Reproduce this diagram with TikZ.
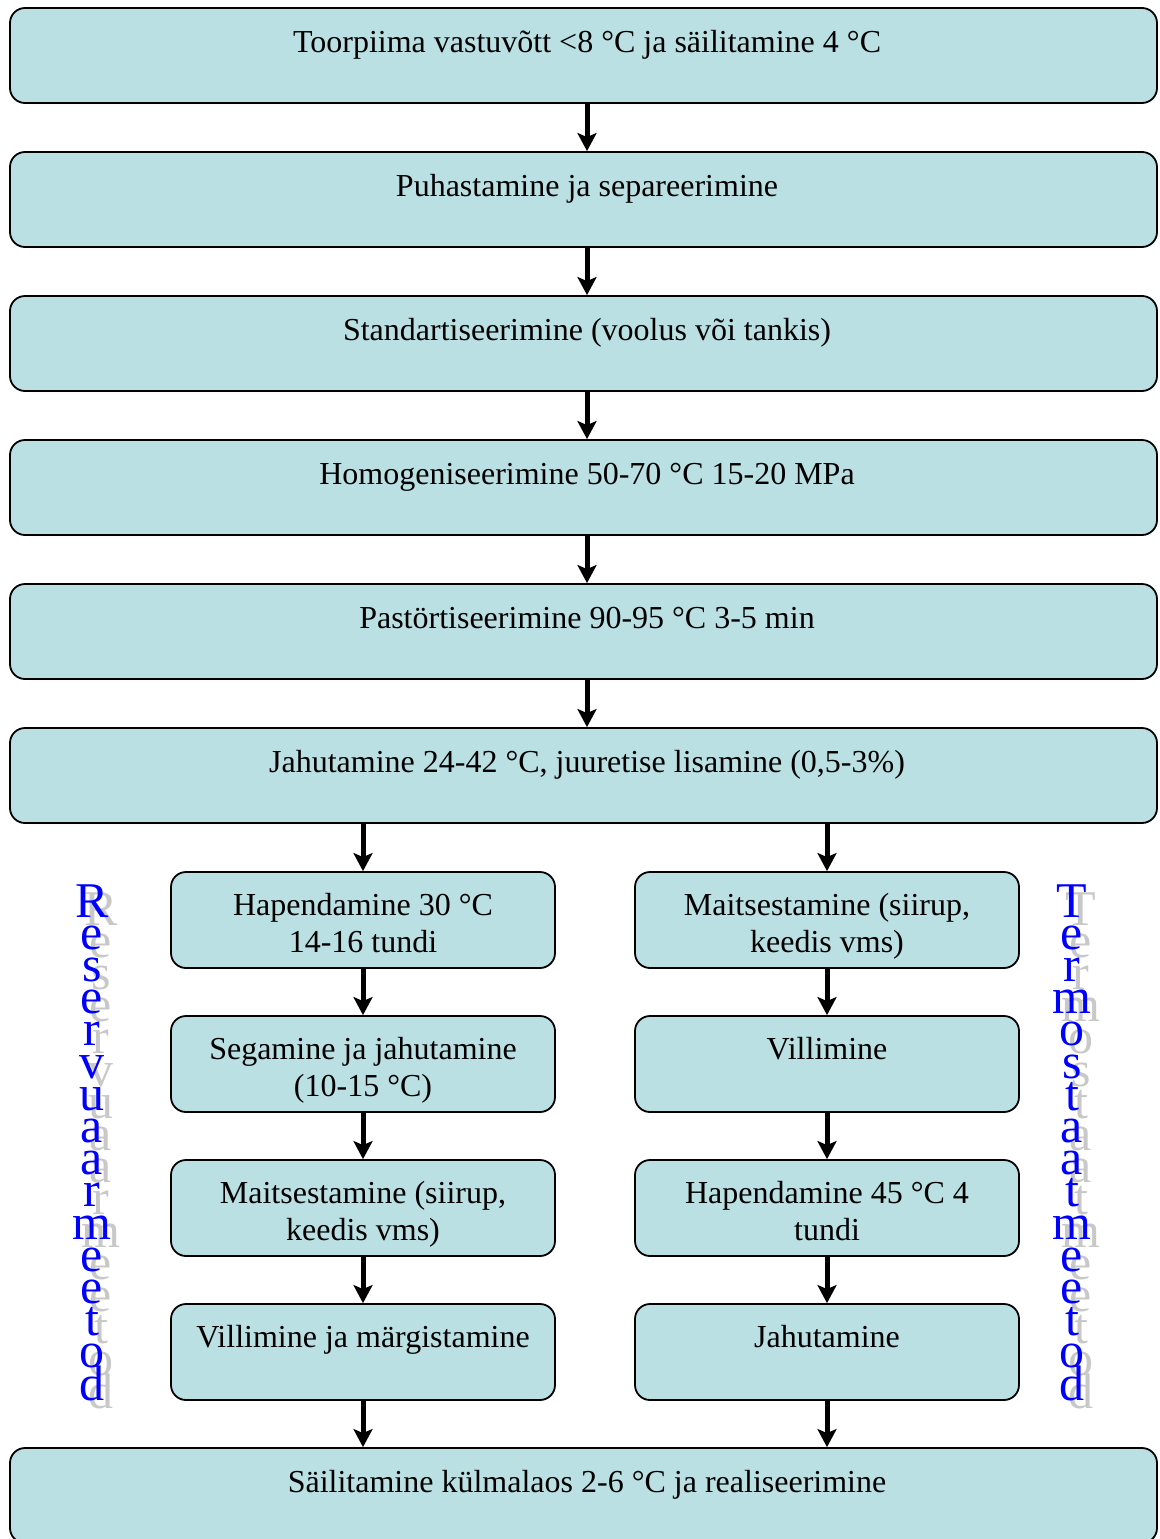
\documentclass[tikz,border=0pt]{standalone}
\usepackage{fontspec}
\setmainfont{Liberation Serif}
\usetikzlibrary{arrows.meta}
\definecolor{boxfill}{RGB}{186,224,227}
\definecolor{lettershade}{RGB}{200,200,200}
\begin{document}
\begin{tikzpicture}[x=1pt,y=-1pt,
  bigbox/.style={draw=black, line width=1.8pt, fill=boxfill, rounded corners=15pt,
    minimum width=1147pt, minimum height=95pt, inner sep=0pt},
  smallbox/.style={draw=black, line width=1.8pt, fill=boxfill, rounded corners=15pt,
    minimum width=384pt, minimum height=96pt, inner sep=0pt},
  txt/.style={anchor=base, inner sep=0pt, font=\fontsize{32}{37}\selectfont},
  flow/.style={line width=5pt, -{Stealth[length=18pt,width=19pt,inset=4pt]}},
  vletter/.style={anchor=base, inner sep=0pt, text=blue, font=\fontsize{50}{50}\selectfont},
  vshade/.style={vletter, text=lettershade}]
\useasboundingbox (0,0) rectangle (1159,1539);
\clip (0,0) rectangle (1159,1539);

% main chain of wide boxes
\node[bigbox] (b1) at (583.5,55.5) {};
\node[bigbox] (b2) at (583.5,199.5) {};
\node[bigbox] (b3) at (583.5,343.5) {};
\node[bigbox] (b4) at (583.5,487.5) {};
\node[bigbox] (b5) at (583.5,631.5) {};
\node[bigbox] (b6) at (583.5,775.5) {};
\node[bigbox] (b7) at (583.5,1495.5) {};

\node[txt] (t1) at (587,52) {Toorpiima vastuvõtt <8 °C ja säilitamine 4 °C};
\node[txt] (t2) at (587,196) {Puhastamine ja separeerimine};
\node[txt] (t3) at (587,340) {Standartiseerimine (voolus või tankis)};
\node[txt] (t4) at (587,484) {Homogeniseerimine 50-70 °C 15-20 MPa};
\node[txt] (t5) at (587,628) {Pastörtiseerimine 90-95 °C 3-5 min};
\node[txt] (t6) at (587,772) {Jahutamine 24-42 °C, juuretise lisamine (0,5-3\%)};
\node[txt] (t7) at (587,1492) {Säilitamine külmalaos 2-6 °C ja realiseerimine};

% left branch
\node[smallbox] (l1) at (363,920) {};
\node[smallbox] (l2) at (363,1064) {};
\node[smallbox] (l3) at (363,1208) {};
\node[smallbox] (l4) at (363,1352) {};
\node[txt] (l1a) at (363,915) {Hapendamine 30 °C};
\node[txt] (l1b) at (363,952) {14-16 tundi};
\node[txt] (l2a) at (363,1059) {Segamine ja jahutamine};
\node[txt] (l2b) at (363,1096) {(10-15 °C)};
\node[txt] (l3a) at (363,1203) {Maitsestamine (siirup,};
\node[txt] (l3b) at (363,1240) {keedis vms)};
\node[txt] (l4a) at (363,1347) {Villimine ja märgistamine};

% right branch
\node[smallbox] (r1) at (827,920) {};
\node[smallbox] (r2) at (827,1064) {};
\node[smallbox] (r3) at (827,1208) {};
\node[smallbox] (r4) at (827,1352) {};
\node[txt] (r1a) at (827,915) {Maitsestamine (siirup,};
\node[txt] (r1b) at (827,952) {keedis vms)};
\node[txt] (r2a) at (827,1059) {Villimine};
\node[txt] (r3a) at (827,1203) {Hapendamine 45 °C 4};
\node[txt] (r3b) at (827,1240) {tundi};
\node[txt] (r4a) at (827,1347) {Jahutamine};

% connectors
\foreach \a/\b in {b1/b2,b2/b3,b3/b4,b4/b5,b5/b6}
  \draw[flow] (\a.south -| t1) -- (\b.north -| t1);
\draw[flow] (b6.south -| l1) -- (l1.north);
\draw[flow] (b6.south -| r1) -- (r1.north);
\foreach \a/\b in {l1/l2,l2/l3,l3/l4,r1/r2,r2/r3,r3/r4}
  \draw[flow] (\a.south) -- (\b.north);
\draw[flow] (l4.south) -- (b7.north -| l4);
\draw[flow] (r4.south) -- (b7.north -| r4);

% vertical method labels with drop shadow
\foreach \c [count=\i from 0] in {R,e,s,e,r,v,u,a,a,r,m,e,e,t,o,d} {
  \node[vshade] (ls\i) at (101,925+\i*32.2) {\c};
  \node[vletter] (lv\i) at (92,917+\i*32.2) {\c};
}
\foreach \c [count=\i from 0] in {T,e,r,m,o,s,t,a,a,t,m,e,e,t,o,d} {
  \node[vshade] (rs\i) at (1081,925+\i*32.2) {\c};
  \node[vletter] (rv\i) at (1072,917+\i*32.2) {\c};
}
\end{tikzpicture}
\end{document}
